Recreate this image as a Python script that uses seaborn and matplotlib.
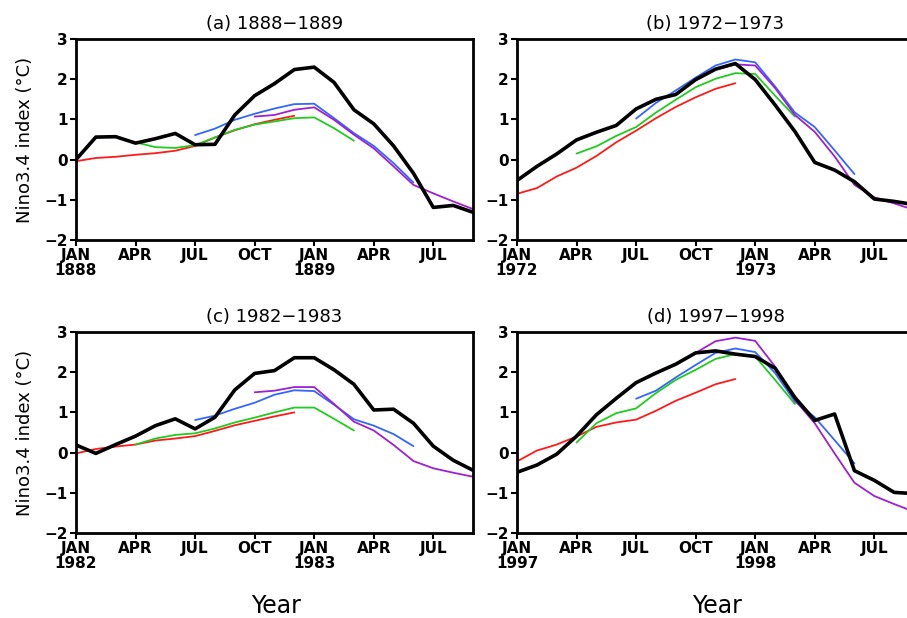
import numpy as np
import pandas as pd
import matplotlib
matplotlib.use("Agg")
import matplotlib.pyplot as plt
import seaborn as sns

months = list(range(21))
tick_pos = [0, 3, 6, 9, 12, 15, 18]
month_names = ["JAN", "APR", "JUL", "OCT", "JAN", "APR", "JUL"]

titles = ["(a) 1888\u22121889", "(b) 1972\u22121973", "(c) 1982\u22121983", "(d) 1997\u22121998"]
years = [(1888, 1889), (1972, 1973), (1982, 1983), (1997, 1998)]

# observed (black), months 0..20
obs_a = [0.0, 0.56, 0.57, 0.41, 0.52, 0.65, 0.37, 0.38, 1.11, 1.59, 1.89, 2.24, 2.30, 1.92, 1.24, 0.89, 0.34, -0.34, -1.19, -1.14, -1.31]
obs_b = [-0.52, -0.17, 0.14, 0.49, 0.68, 0.85, 1.26, 1.50, 1.62, 1.99, 2.25, 2.39, 1.99, 1.36, 0.70, -0.07, -0.26, -0.55, -0.98, -1.04, -1.12]
obs_c = [0.19, -0.02, 0.20, 0.41, 0.67, 0.84, 0.59, 0.88, 1.56, 1.97, 2.04, 2.36, 2.36, 2.06, 1.70, 1.06, 1.08, 0.73, 0.16, -0.19, -0.44]
obs_d = [-0.49, -0.31, -0.04, 0.41, 0.94, 1.35, 1.74, 1.98, 2.20, 2.48, 2.53, 2.45, 2.39, 2.10, 1.37, 0.80, 0.96, -0.45, -0.69, -0.99, -1.02]

# forecasts started in JAN (red, months 0..11)
red_a = [-0.04, 0.04, 0.07, 0.12, 0.16, 0.22, 0.34, 0.55, 0.73, 0.88, 0.99, 1.09]
red_b = [-0.85, -0.71, -0.42, -0.20, 0.09, 0.43, 0.72, 1.03, 1.31, 1.55, 1.76, 1.90]
red_c = [-0.02, 0.09, 0.15, 0.20, 0.30, 0.35, 0.41, 0.54, 0.68, 0.79, 0.90, 1.00]
red_d = [-0.22, 0.05, 0.20, 0.40, 0.64, 0.75, 0.82, 1.04, 1.29, 1.49, 1.70, 1.83]

# forecasts started in APR (green, months 3..14)
green_a = [0.43, 0.31, 0.29, 0.36, 0.55, 0.74, 0.87, 0.95, 1.03, 1.05, 0.78, 0.47]
green_b = [0.15, 0.33, 0.59, 0.81, 1.17, 1.49, 1.80, 2.01, 2.15, 2.13, 1.59, 1.07]
green_c = [0.20, 0.35, 0.44, 0.48, 0.60, 0.75, 0.87, 1.00, 1.12, 1.12, 0.84, 0.55]
green_d = [0.25, 0.73, 0.98, 1.10, 1.48, 1.81, 2.06, 2.33, 2.45, 2.39, 1.81, 1.21]

# forecasts started in JUL (blue, months 6..17)
blue_a = [0.61, 0.77, 0.99, 1.14, 1.27, 1.38, 1.39, 1.03, 0.66, 0.34, -0.09, -0.57]
blue_b = [1.02, 1.41, 1.72, 2.04, 2.34, 2.49, 2.42, 1.82, 1.17, 0.81, 0.23, -0.36]
blue_c = [0.81, 0.92, 1.09, 1.24, 1.44, 1.55, 1.53, 1.19, 0.83, 0.67, 0.46, 0.16]
blue_d = [1.34, 1.54, 1.87, 2.18, 2.48, 2.59, 2.50, 1.98, 1.27, 0.88, 0.31, -0.27]

# forecasts started in OCT (purple, months 9..20)
purple_a = [1.07, 1.11, 1.24, 1.30, 0.99, 0.62, 0.28, -0.17, -0.63, -0.84, -1.04, -1.23]
purple_b = [1.97, 2.24, 2.37, 2.34, 1.78, 1.11, 0.69, 0.08, -0.63, -0.94, -1.09, -1.25]
purple_c = [1.50, 1.54, 1.63, 1.63, 1.21, 0.77, 0.55, 0.19, -0.21, -0.39, -0.50, -0.60]
purple_d = [2.48, 2.77, 2.86, 2.78, 2.14, 1.31, 0.73, -0.02, -0.75, -1.08, -1.28, -1.47]

obs = [obs_a, obs_b, obs_c, obs_d]
fcst = {
    "red": ([red_a, red_b, red_c, red_d], 0, "#ff1a1a"),
    "green": ([green_a, green_b, green_c, green_d], 3, "#1fcc1f"),
    "blue": ([blue_a, blue_b, blue_c, blue_d], 6, "#3366ff"),
    "purple": ([purple_a, purple_b, purple_c, purple_d], 9, "#a01fd0"),
}

sns.set_style("ticks")
plt.rcParams["font.family"] = ["DejaVu Sans"]
plt.rcParams["axes.linewidth"] = 2.0
plt.rcParams["text.color"] = "black"
plt.rcParams["axes.labelcolor"] = "black"
plt.rcParams["xtick.color"] = "black"
plt.rcParams["ytick.color"] = "black"
plt.rcParams["axes.edgecolor"] = "black"

fig = plt.figure(figsize=(9.07, 6.18), dpi=100)
W, H = 907.0, 618.0
boxes = [(76, 39), (517, 39), (76, 332), (517, 332)]
aw, ah = 397, 201

for k in range(4):
    x0, ytop = boxes[k]
    ax = fig.add_axes([x0 / W, 1 - (ytop + ah) / H, aw / W, ah / H])
    for name in ["red", "green", "blue", "purple"]:
        vals, start, col = fcst[name]
        v = vals[k]
        df = pd.DataFrame({"m": months[start:start + len(v)], "v": v})
        sns.lineplot(data=df, x="m", y="v", ax=ax, color=col, linewidth=1.3)
    df = pd.DataFrame({"m": months, "v": obs[k]})
    sns.lineplot(data=df, x="m", y="v", ax=ax, color="black", linewidth=2.6)

    ax.set_xlim(0, 20)
    ax.set_ylim(-2, 3)
    y0, y1 = years[k]
    labels = [f"JAN\n{y0}", "APR", "JUL", "OCT", f"JAN\n{y1}", "APR", "JUL"]
    ax.set_xticks(tick_pos)
    ax.set_xticklabels(labels, fontsize=11, fontweight="bold", linespacing=0.95)
    ax.set_yticks([-2, -1, 0, 1, 2, 3])
    ax.set_yticklabels(["\u22122", "\u22121", "0", "1", "2", "3"], fontsize=11, fontweight="bold")
    ax.tick_params(direction="out", length=4, width=1.5, pad=2, colors="black")
    for sp in ax.spines.values():
        sp.set_visible(True)
        sp.set_linewidth(2.0)
        sp.set_color("black")
    ax.set_xlabel("")
    ax.set_title(titles[k], fontsize=13, pad=7, color="black")
    if k in (0, 2):
        ax.set_ylabel("Nino3.4 index (\u00b0C)", fontsize=13, color="black")
        ax.yaxis.set_label_coords(-0.105, 0.5)
    else:
        ax.set_ylabel("")
    if k in (2, 3):
        fig.text((x0 + 200) / W, 1 - 606 / H, "Year", fontsize=17, ha="center", va="center", color="black")

fig.savefig("out.png", dpi=100)
